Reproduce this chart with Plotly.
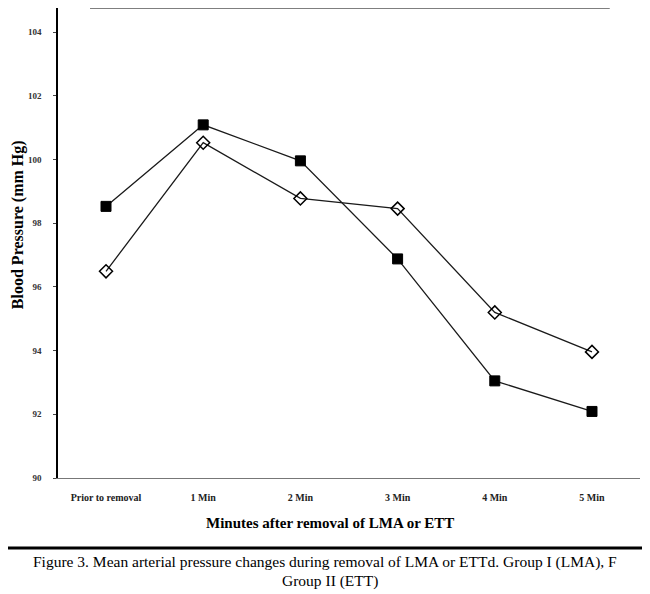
import plotly.graph_objects as go

# categories on the x axis
time_points = ["Prior to removal", "1 Min", "2 Min", "3 Min", "4 Min", "5 Min"]

# mean arterial pressure, mm Hg
group_1_lma = [98.53, 101.09, 99.96, 96.88, 93.05, 92.09]   # filled squares
group_2_ett = [96.49, 100.53, 98.78, 98.46, 95.20, 93.96]   # open diamonds

y_ticks = [90, 92, 94, 96, 98, 100, 102, 104]

serif = "Liberation Serif, Times New Roman, serif"

fig = go.Figure()

fig.add_trace(go.Scatter(
    x=list(range(len(time_points))), y=group_1_lma, mode="lines+markers",
    name="Group I (LMA)",
    line=dict(color="#1a1a1a", width=1.3),
    marker=dict(symbol="square", size=10, color="black", line=dict(color="black", width=1)),
))
fig.add_trace(go.Scatter(
    x=list(range(len(time_points))), y=group_2_ett, mode="lines+markers",
    name="Group II (ETT)",
    line=dict(color="#1a1a1a", width=1.3),
    marker=dict(symbol="diamond-open", size=10, color="black", line=dict(color="black", width=1.5)),
))

# page has an 8px body margin, so the figure is drawn 8px smaller
fig.update_layout(
    width=642, height=586,
    margin=dict(l=50, r=10, t=0, b=116),
    paper_bgcolor="white", plot_bgcolor="white",
    showlegend=False,
    font=dict(family=serif, color="black"),
)

fig.update_xaxes(
    range=[-0.494, 5.494],
    tickmode="array", tickvals=list(range(len(time_points))), ticktext=time_points,
    tickfont=dict(family=serif, size=10, color="#222", weight="bold"),
    ticks="", ticklabelstandoff=10,
    showgrid=False, zeroline=False,
    showline=True, linecolor="#777", linewidth=1.2,
)
fig.update_yaxes(
    range=[90, 104.76],
    tickmode="array", tickvals=y_ticks,
    tickfont=dict(family=serif, size=9, color="#333", weight="bold"),
    ticks="outside", ticklen=3, tickcolor="#444", ticklabelstandoff=10,
    showgrid=False, zeroline=False,
    showline=True, linecolor="black", linewidth=1.5,
)

# faint top border from the scanned frame
fig.add_shape(type="line", xref="paper", yref="paper",
              x0=0.055, x1=0.948, y0=1.0, y1=1.0,
              line=dict(color="#555", width=1.5))

# axis titles
fig.add_annotation(text="<b>Blood Pressure (mm Hg)</b>", xref="paper", yref="paper",
                   x=-0.0687, y=0.538, xanchor="center", yanchor="middle",
                   textangle=-90, showarrow=False,
                   font=dict(family=serif, size=16, color="black"))
fig.add_annotation(text="<b>Minutes after removal of LMA or ETT</b>", xref="paper", yref="paper",
                   x=0.467, y=-0.0957, xanchor="center", yanchor="middle", showarrow=False,
                   font=dict(family=serif, size=15, color="black"))

# thick rule above the caption
fig.add_shape(type="line", xref="paper", yref="paper",
              x0=-0.1, x1=1.02, y0=-0.149, y1=-0.149,
              line=dict(color="black", width=3))

# figure caption
fig.add_annotation(text="Figure 3. Mean arterial pressure changes during removal of LMA or ETTd. Group I (LMA), F",
                   xref="paper", yref="paper", x=0.459, y=-0.1787,
                   xanchor="center", yanchor="middle", showarrow=False,
                   font=dict(family=serif, size=15.5, color="black"))
fig.add_annotation(text="Group II (ETT)",
                   xref="paper", yref="paper", x=0.467, y=-0.2191,
                   xanchor="center", yanchor="middle", showarrow=False,
                   font=dict(family=serif, size=15.5, color="black"))

fig.write_html("out.html")
